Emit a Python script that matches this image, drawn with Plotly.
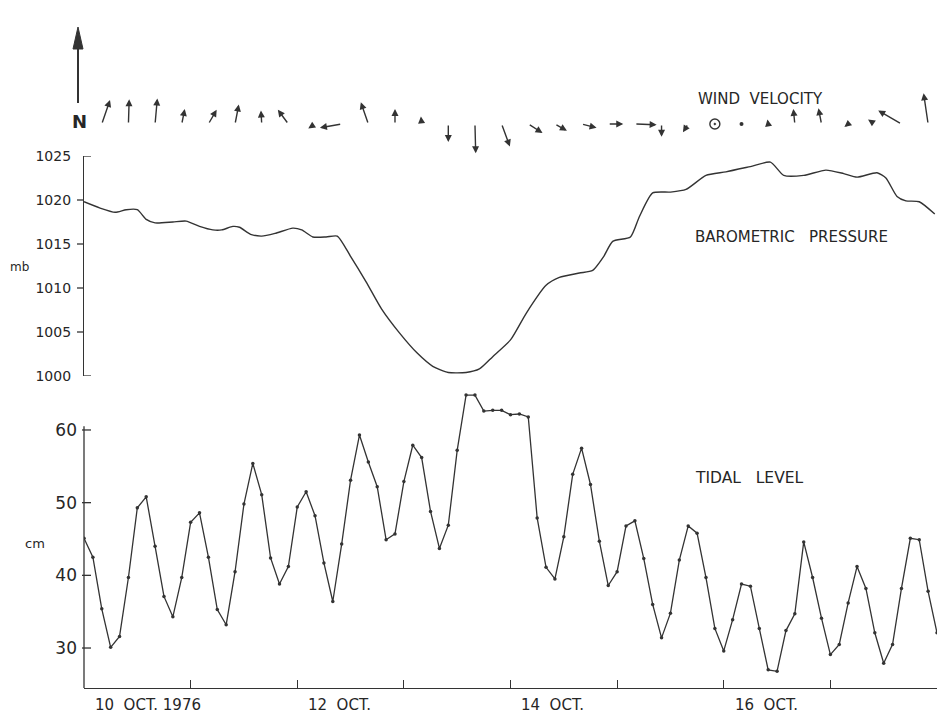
import plotly.graph_objects as go

# ---------------------------------------------------------------- data
# Time is counted in hours after 00:00, 10 October 1976.

# Tide gauge, 2-hourly readings (cm)
TIDE_HOURS = list(range(0, 193, 2))
TIDE_CM = [
    45.1, 42.5, 35.4, 30.1, 31.6, 39.7, 49.3, 50.8, 44.0, 37.1, 34.3, 39.7,
    47.3, 48.6, 42.5, 35.3, 33.2, 40.5, 49.8, 55.4, 51.1, 42.4, 38.8, 41.2,
    49.4, 51.5, 48.2, 41.7, 36.4, 44.3, 53.1, 59.3, 55.6, 52.2, 44.9, 45.7,
    52.9, 57.9, 56.2, 48.8, 43.7, 46.9, 57.2, 64.8, 64.8, 62.6, 62.7, 62.7,
    62.1, 62.2, 61.8, 47.9, 41.1, 39.5, 45.3, 53.9, 57.5, 52.5, 44.7, 38.6,
    40.5, 46.8, 47.5, 42.3, 36.0, 31.4, 34.8, 42.1, 46.8, 45.8, 39.7, 32.7,
    29.6, 33.9, 38.8, 38.5, 32.7, 27.0, 26.8, 32.4, 34.7, 44.6, 39.7, 34.1,
    29.1, 30.5, 36.2, 41.2, 38.2, 32.1, 27.9, 30.5, 38.2, 45.1, 44.9, 37.8,
    32.1,
]

# Barometric pressure trace (mb)
PRESSURE_HOURS = [
    0, 3.5, 7, 9.5, 12, 14, 16, 20, 23, 26, 29, 31, 33.5, 35, 37.5, 40, 43,
    47, 49, 51.5, 54.5, 57, 60, 63.5, 67, 71, 75, 78.5, 82, 86, 89, 92, 96,
    99.5, 104, 107, 111.5, 114.5, 117, 119, 123, 125, 128, 132, 135.5, 140,
    144.5, 150, 154.5, 157.5, 162, 167, 171, 174, 178.5, 180.5, 183, 185,
    188, 191.5,
]
PRESSURE_MB = [
    1019.8, 1019.1, 1018.6, 1018.9, 1018.9, 1017.8, 1017.4, 1017.5, 1017.6,
    1017.0, 1016.6, 1016.6, 1017.0, 1016.9, 1016.1, 1015.9, 1016.2, 1016.8,
    1016.6, 1015.8, 1015.8, 1015.9, 1013.6, 1010.7, 1007.6, 1004.9, 1002.6,
    1001.1, 1000.4, 1000.4, 1000.8, 1002.2, 1004.1, 1007.1, 1010.3, 1011.2,
    1011.7, 1012.0, 1013.6, 1015.3, 1015.8, 1018.1, 1020.8, 1020.9, 1021.2,
    1022.8, 1023.2, 1023.8, 1024.3, 1022.8, 1022.8, 1023.4, 1023.0, 1022.6,
    1023.1, 1022.5, 1020.4, 1019.9, 1019.8, 1018.4,
]

# Wind, 6-hourly: eastward (U) and northward (V) components, m/s.
# None marks observations drawn as calm / light-air symbols.
WIND_HOURS = [
    4, 10, 16, 22, 28, 34, 40, 46, 52, 58, 64, 70, 76, 82, 88, 94,
    100, 106, 112, 118, 124, 130, 136, 142, 148, 154, 160, 166, 172, 178,
    184, 190,
]
WIND_U = [
    1.1, 0.1, 0.3, 0.4, 1.1, 0.5, -0.1, -1.4, -0.9, -2.9, -1.0, 0.0,
    -0.1, 0.0, 0.1, 1.1, 1.9, 1.6, 2.0, 2.0, 2.9, 0.0, -0.7, None,
    None, -0.1, -0.2, -0.4, -0.5, -0.9, -3.1, -0.6,
]
WIND_V = [
    3.2, 3.3, 3.4, 2.0, 1.9, 2.6, 1.8, 1.9, -0.6, -0.5, 2.9, 2.0,
    1.0, -2.4, -3.9, -3.0, -1.2, -0.9, -0.5, 0.0, -0.1, -1.7, -1.1, None,
    None, 0.6, 2.0, 2.1, -0.4, 0.6, 1.8, 4.1,
]
CALM_HOURS = [142]
LIGHT_HOURS = [148]

DAY_TICKS = [24, 48, 72, 96, 120, 144, 168]
DATE_LABEL_HOURS = [0, 48, 96, 144]
DATE_LABELS = ["10\u00a0 OCT. 1976", "12\u00a0 OCT.", "14\u00a0 OCT.", "16\u00a0 OCT."]
PRESSURE_TICKS = [1000, 1005, 1010, 1015, 1020, 1025]
TIDE_TICKS = [30, 40, 50, 60]

# ---------------------------------------------------------------- page
W, H = 947, 719
ML, MR, MT, MB = 84, 10, 20, 31
PW = W - ML - MR
PH = H - MT - MB
T_END = 192

INK = "#333333"
TEXT = "#262626"
FONT = "DejaVu Sans"


def fx(px):
    """page pixel column -> paper x"""
    return (px - ML) / PW


def fy(py):
    """page pixel row -> paper y"""
    return (H - MB - py) / PH


# vertical bands of the three panels
TIDE_DOMAIN = [0, fy(390)]
PRES_DOMAIN = [fy(376), fy(156)]
WIND_DOMAIN = [fy(160), 1.0]

TIDE_RANGE = [24.5, 65.5]
PRES_RANGE = [1000, 1025]

ARROW_PX_PER_MS = 7.5          # drawn arrow length per m/s
WIND_BASE_PY = 124             # row of the arrow tails
WIND_RANGE = [-(160 - WIND_BASE_PY) / ARROW_PX_PER_MS,
              (WIND_BASE_PY - 20) / ARROW_PX_PER_MS]
HOURS_PER_MS = ARROW_PX_PER_MS / (PW / T_END)

fig = go.Figure()

# barometric pressure
fig.add_trace(go.Scatter(
    x=PRESSURE_HOURS, y=PRESSURE_MB, xaxis="x", yaxis="y2",
    mode="lines", line=dict(color=INK, width=1.4, shape="spline", smoothing=0.6),
    hoverinfo="x+y", showlegend=False,
))

# tidal level
fig.add_trace(go.Scatter(
    x=TIDE_HOURS, y=TIDE_CM, xaxis="x", yaxis="y",
    mode="lines+markers", line=dict(color=INK, width=1.3),
    marker=dict(color=INK, size=3.5),
    hoverinfo="x+y", showlegend=False,
))

# calm and light-air symbols in the wind row
fig.add_trace(go.Scatter(
    x=CALM_HOURS, y=[0] * len(CALM_HOURS), xaxis="x", yaxis="y3",
    mode="markers",
    marker=dict(symbol="circle-open-dot", size=10, color=INK, line=dict(width=1.4, color=INK)),
    hoverinfo="x", showlegend=False,
))
fig.add_trace(go.Scatter(
    x=LIGHT_HOURS, y=[0] * len(LIGHT_HOURS), xaxis="x", yaxis="y3",
    mode="markers", marker=dict(size=4, color=INK),
    hoverinfo="x", showlegend=False,
))

annotations = []

# wind arrows: tail on the baseline at the observation time
for t, u, v in zip(WIND_HOURS, WIND_U, WIND_V):
    if u is None:
        continue
    annotations.append(dict(
        x=t + u * HOURS_PER_MS, y=v, ax=t, ay=0,
        xref="x", yref="y3", axref="x", ayref="y3",
        text="", showarrow=True, arrowhead=2, arrowsize=1.0,
        arrowwidth=1.4, arrowcolor=INK, standoff=0, startstandoff=0,
    ))


def label(text, px, py, size, xanchor="center", bold=False):
    annotations.append(dict(
        text=f"<b>{text}</b>" if bold else text,
        x=fx(px), y=fy(py), xref="paper", yref="paper",
        xanchor=xanchor, yanchor="middle", showarrow=False,
        font=dict(family=FONT, size=size, color=TEXT),
    ))


label("WIND\u00a0 VELOCITY", 760, 99, 15)
label("BAROMETRIC\u00a0\u00a0 PRESSURE", 791, 237, 15)
label("TIDAL\u00a0\u00a0 LEVEL", 749, 478, 15.5)
label("mb", 19, 267, 12)
label("cm", 35, 543, 13)
label("N", 79, 121, 18, bold=True)

for t, txt in zip(DATE_LABEL_HOURS, DATE_LABELS):
    annotations.append(dict(
        text=txt, x=t + 2.0, y=fy(705), xref="x", yref="paper",
        xanchor="left", yanchor="middle", showarrow=False,
        font=dict(family=FONT, size=15, color=TEXT),
    ))

shapes = []


def tick(yref, value, x0, x1):
    shapes.append(dict(
        type="line", xref="paper", xsizemode="pixel", xanchor=0,
        x0=x0, x1=x1, yref=yref, y0=value, y1=value,
        line=dict(color=INK, width=1.3),
    ))


# pressure scale: end ticks turn inward, the rest point outward
for p in PRESSURE_TICKS:
    if p in (PRESSURE_TICKS[0], PRESSURE_TICKS[-1]):
        tick("y2", p, 0, 7)
    else:
        tick("y2", p, -7, 0)

# tidal scale: axis line and short ticks crossing into the panel
shapes.append(dict(
    type="line", xref="paper", x0=0, x1=0, yref="y",
    y0=TIDE_RANGE[0], y1=60.5, line=dict(color=INK, width=1.3),
))
for c in TIDE_TICKS:
    tick("y", c, -2, 7)

# north reference arrow
shapes.append(dict(
    type="line", xref="paper", yref="paper",
    x0=fx(78), x1=fx(78), y0=fy(103), y1=fy(46),
    line=dict(color=INK, width=2),
))
shapes.append(dict(
    type="path", xref="paper", yref="paper",
    path=f"M {fx(73)} {fy(49)} L {fx(83)} {fy(49)} L {fx(78)} {fy(27)} Z",
    fillcolor=INK, line=dict(color=INK, width=1),
))

fig.update_layout(
    width=W, height=H,
    margin=dict(l=ML, r=MR, t=MT, b=MB),
    paper_bgcolor="white", plot_bgcolor="white",
    font=dict(family=FONT, color=TEXT),
    showlegend=False,
    xaxis=dict(
        domain=[0, 1], range=[0, T_END], anchor="y",
        showline=True, linecolor=INK, linewidth=1.3,
        ticks="inside", tickvals=DAY_TICKS, ticklen=8, tickwidth=1.3, tickcolor=INK,
        showticklabels=False, showgrid=False, zeroline=False,
    ),
    yaxis=dict(
        domain=TIDE_DOMAIN, range=TIDE_RANGE, anchor="x",
        showline=False, ticks="", tickvals=TIDE_TICKS,
        ticktext=[str(v) for v in TIDE_TICKS],
        tickfont=dict(size=17, color=TEXT), ticklabelstandoff=6,
        showgrid=False, zeroline=False,
    ),
    yaxis2=dict(
        domain=PRES_DOMAIN, range=PRES_RANGE, anchor="x",
        showline=True, linecolor=INK, linewidth=1.3,
        ticks="", tickvals=PRESSURE_TICKS,
        ticktext=[str(v) for v in PRESSURE_TICKS],
        tickfont=dict(size=14, color=TEXT), ticklabelstandoff=9,
        showgrid=False, zeroline=False,
    ),
    yaxis3=dict(
        domain=WIND_DOMAIN, range=WIND_RANGE, anchor="x",
        visible=False, showgrid=False, zeroline=False,
    ),
    annotations=annotations,
    shapes=shapes,
)

fig.write_html("out.html")
